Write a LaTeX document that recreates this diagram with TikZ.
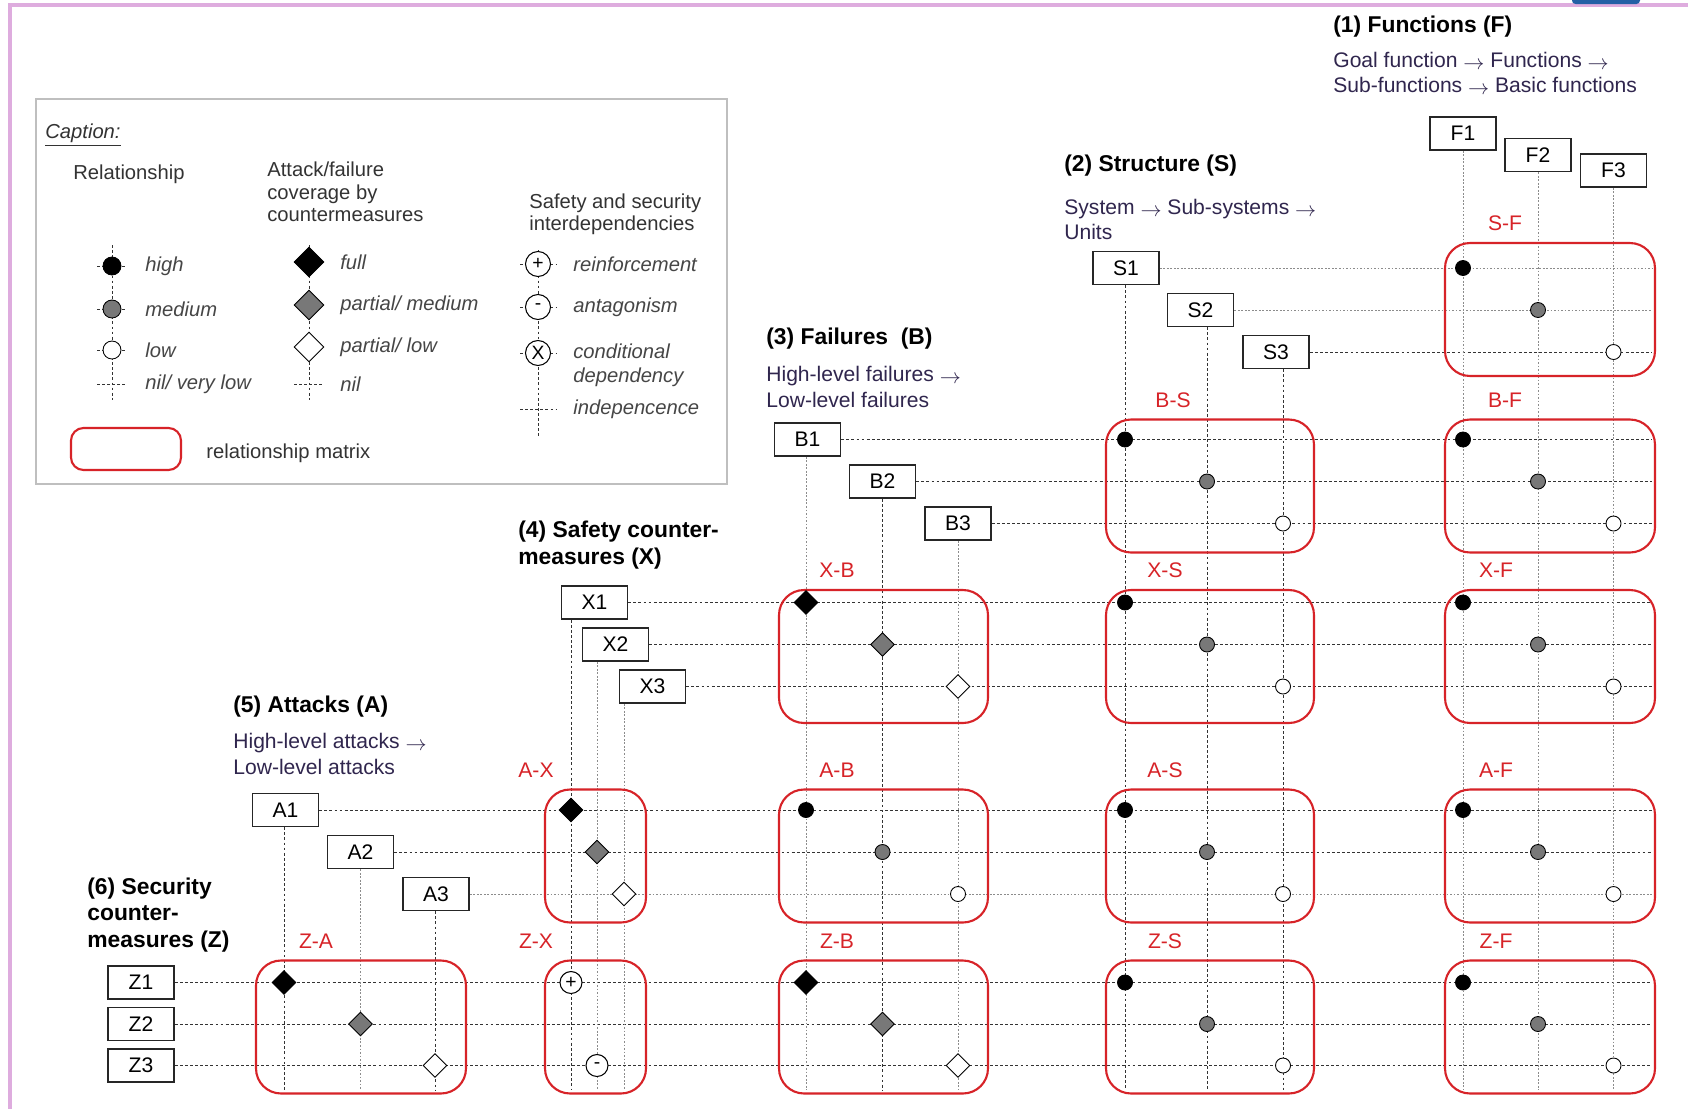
\documentclass[tikz,border=0pt]{standalone}
\usepackage{fontspec}
\setmainfont{Liberation Sans}
\usepackage{xcolor}
\usetikzlibrary{shapes,arrows,positioning}

\definecolor{matred}{RGB}{215,35,40}
\definecolor{slideframe}{RGB}{222,172,222}
\definecolor{subtext}{RGB}{48,38,78}
\definecolor{legtext}{RGB}{70,70,70}
\definecolor{medgray}{RGB}{120,120,120}
\definecolor{tabblue}{RGB}{35,95,165}

\newcommand{\nextlvl}{\raisebox{-0.15ex}{$\rightarrow$}}

\begin{document}
\begin{tikzpicture}[x=0.02cm, y=-0.02cm,
  idbox/.style={rectangle, draw, black!85, fill=white, line width=0.9pt, text=black, minimum width=1.32cm, minimum height=0.66cm, inner sep=0pt, font=\fontsize{12}{12}\selectfont},
  relmat/.style={rectangle, draw=matred, line width=1.2pt, rounded corners=0.5cm, minimum width=4.2cm, minimum height=2.66cm, inner sep=0pt},
  matlabel/.style={text=matred, font=\fontsize{12}{12}\selectfont, inner sep=0pt},
  gridline/.style={draw, black!80, line width=0.55pt, dash pattern=on 1.6pt off 1.3pt},
  gridfaint/.style={draw, black!45, line width=0.55pt, dash pattern=on 1pt off 1pt},
  mhigh/.style={circle, draw, line width=0.5pt, fill=black, inner sep=0pt, minimum size=0.3cm},
  mmed/.style={mhigh, fill=medgray},
  mlow/.style={mhigh, fill=white},
  dfull/.style={diamond, draw, line width=0.5pt, fill=black, inner sep=0pt, minimum width=0.48cm, minimum height=0.48cm},
  dmed/.style={dfull, fill=medgray},
  dlow/.style={dfull, fill=white},
  interdep/.style={circle, draw, line width=0.6pt, fill=white, inner sep=0pt, minimum size=0.42cm, font=\fontsize{11}{11}\selectfont},
  heading/.style={anchor=west, align=left, inner sep=0pt, font=\fontsize{13}{15.3}\selectfont\bfseries},
  subhead/.style={anchor=west, align=left, inner sep=0pt, text=subtext, font=\fontsize{12}{14.4}\selectfont},
  legtitle/.style={anchor=west, align=left, inner sep=0pt, text=black!80, font=\fontsize{11.5}{12.8}\selectfont},
  legitem/.style={anchor=west, align=left, inner sep=0pt, text=legtext, font=\fontsize{11.5}{13.5}\selectfont\itshape}]

  \fill[white] (0,0) rectangle (1688,1109);
  \useasboundingbox (0,0) rectangle (1688,1109);

  % slide frame
  \draw[slideframe, line width=2.4pt] (10,1109) -- (10,5) -- (1688,5);
  \fill[tabblue, rounded corners=2pt] (1572,-6) rectangle (1640,4);

  % caption
  \node[draw=black!25, line width=1.2pt, minimum width=13.82cm, minimum height=7.7cm] (capbox) at (381.5,291.5) {};
  \node[legtitle] (capt) at (45,135) {\underline{\textit{Caption:}}};
  \node[legtitle] (reltitle) at (73,174) {Relationship};
  \node[legtitle] (covtitle) at (267,192) {Attack/failure\\coverage by\\countermeasures};
  \node[legtitle] (deptitle) at (529,214.5) {Safety and security\\interdependencies};

  \coordinate (lrelT) at (112,245); \coordinate (lrelB) at (112,400);
  \coordinate (lrel1) at (112,266); \coordinate (lrel2) at (112,309);
  \coordinate (lrel3) at (112,350); \coordinate (lrel4) at (112,384);
  \coordinate (lcovT) at (309,245); \coordinate (lcovB) at (309,400);
  \coordinate (lcov1) at (309,262); \coordinate (lcov2) at (309,305);
  \coordinate (lcov3) at (309,347); \coordinate (lcov4) at (309,384);
  \coordinate (ldepT) at (538,250); \coordinate (ldepB) at (538,436);
  \coordinate (ldep1) at (538,264); \coordinate (ldep2) at (538,307);
  \coordinate (ldep3) at (538,353); \coordinate (ldep4) at (538,409);

  \draw[gridline] (lrelT) -- (lrelB);
  \draw[gridline] (lcovT) -- (lcovB);
  \draw[gridline] (ldepT) -- (ldepB);
  \foreach \i in {1,...,4} {
    \draw[gridline] ([xshift=-0.3cm]lrel\i) -- ([xshift=0.3cm]lrel\i);
    \draw[gridline] ([xshift=-0.3cm]lcov\i) -- ([xshift=0.3cm]lcov\i);
    \draw[gridline] ([xshift=-0.36cm]ldep\i) -- ([xshift=0.36cm]ldep\i);
  }

  \node[mhigh, minimum size=0.36cm] (lhigh) at (lrel1) {};
  \node[mmed, minimum size=0.36cm] (lmed) at (lrel2) {};
  \node[mlow, minimum size=0.36cm] (llow) at (lrel3) {};
  \node[dfull, minimum width=0.6cm, minimum height=0.6cm] (lfull) at (lcov1) {};
  \node[dmed, minimum width=0.6cm, minimum height=0.6cm] (lpmed) at (lcov2) {};
  \node[dlow, minimum width=0.6cm, minimum height=0.6cm] (lplow) at (lcov3) {};
  \node[interdep, minimum size=0.5cm] (lplus) at (ldep1) {+};
  \node[interdep, minimum size=0.5cm] (lminus) at (ldep2) {-};
  \node[interdep, minimum size=0.5cm] (lcond) at (ldep3) {X};

  \node[legitem, right=0.66cm of lrel1] (thigh) {high};
  \node[legitem, right=0.66cm of lrel2] (tmed) {medium};
  \node[legitem, right=0.66cm of lrel3] (tlow) {low};
  \node[legitem, right=0.66cm of lrel4] (tnil) {nil/ very low};
  \node[legitem, right=0.62cm of lcov1] (tfull) {full};
  \node[legitem, right=0.62cm of lcov2] (tpmed) {partial/ medium};
  \node[legitem, right=0.62cm of lcov3] (tplow) {partial/ low};
  \node[legitem, right=0.62cm of lcov4] (tcnil) {nil};
  \node[legitem, right=0.7cm of ldep1] (tplus) {reinforcement};
  \node[legitem, right=0.7cm of ldep2] (tminus) {antagonism};
  \node[legitem] (tcond) at (573,365) {conditional\\dependency};
  \node[legitem, right=0.7cm of ldep4] (tindep) {indepencence};

  \node[relmat, minimum width=2.2cm, minimum height=0.84cm, rounded corners=0.25cm] (lmat) at (126,449) {};
  \node[legtitle] (tmat) at (206,453) {relationship matrix};

  % headings
  \node[heading] (hF) at (1333,27) {(1) Functions (F)};
  \node[subhead] (sF) at (1333,73.5) {Goal function \nextlvl{} Functions \nextlvl\\Sub-functions \nextlvl{} Basic functions};
  \node[heading] (hS) at (1064,166) {(2) Structure (S)};
  \node[subhead] (sS) at (1064,219.5) {System \nextlvl{} Sub-systems \nextlvl\\Units};
  \node[heading] (hB) at (766,339) {(3) Failures\ \ (B)};
  \node[subhead] (sB) at (766,387) {High-level failures \nextlvl\\Low-level failures};
  \node[heading] (hX) at (518,545.5) {(4) Safety counter-\\measures (X)};
  \node[heading] (hA) at (233,707) {(5) Attacks (A)};
  \node[subhead] (sA) at (233,754) {High-level attacks \nextlvl\\Low-level attacks};
  \node[heading] (hZ) at (87,915) {(6) Security\\counter-\\measures (Z)};

  % element boxes
  \node[idbox] (F1) at (1463,133.5) {F1};
  \node[idbox] (F2) at (1538,155) {F2};
  \node[idbox] (F3) at (1613.5,170.5) {F3};
  \node[idbox] (S1) at (1126,268) {S1};
  \node[idbox] (S2) at (1200.5,310) {S2};
  \node[idbox] (S3) at (1276,352) {S3};
  \node[idbox] (B1) at (807.5,439.5) {B1};
  \node[idbox] (B2) at (882.5,481.5) {B2};
  \node[idbox] (B3) at (958,523.5) {B3};
  \node[idbox] (X1) at (594.5,602.5) {X1};
  \node[idbox] (X2) at (615.5,644.5) {X2};
  \node[idbox] (X3) at (652.5,686.5) {X3};
  \node[idbox] (A1) at (285.5,810) {A1};
  \node[idbox] (A2) at (360.5,852) {A2};
  \node[idbox] (A3) at (436,894) {A3};
  \node[idbox] (Z1) at (141,982.5) {Z1};
  \node[idbox] (Z2) at (141,1024) {Z2};
  \node[idbox] (Z3) at (141,1065.5) {Z3};

  \coordinate (rend) at (1652,0);
  \coordinate (cbot) at (0,1090);
  \foreach \n/\dx in {F1/0,F2/0,F3/0,S1/-1,S2/6.5,S3/7,B1/-1.5,B2/0,B3/0,X1/-23.5,X2/-18.5,X3/-28.5,A1/-1.5,A2/0,A3/-1}
    \coordinate (c\n) at ([xshift=\dx*0.02cm]\n.south);

  % rows and columns
  \foreach \n in {S3,B1,B2,B3,X1,X2,X3,A1,A2,Z1,Z2,Z3}
    \draw[gridline] (\n.east) -- (\n.east -| rend);
  \foreach \n in {S1,S2,A3}
    \draw[gridfaint] (\n.east) -- (\n.east -| rend);
  \foreach \n in {S1,S2,S3,B2,X1,A1,A3}
    \draw[gridline] (c\n) -- (c\n |- cbot);
  \foreach \n in {F1,F2,F3,B1,B3,X2,X3,A2}
    \draw[gridfaint] (c\n) -- (c\n |- cbot);

  % relationship matrices
  \foreach \rw/\cl/\px/\py/\lx/\w in {S/F/1550/309.5/1505/4.2, B/S/1210/486/1173/4.16, B/F/1550/486/1505/4.2,
      X/B/883.5/656.5/837/4.18, X/S/1210/656.5/1165/4.16, X/F/1550/656.5/1496/4.2,
      A/X/595.5/856/536/2.02, A/B/883.5/856/837/4.18, A/S/1210/856/1165/4.16, A/F/1550/856/1496/4.2,
      Z/A/361/1027/316/4.2, Z/X/595.5/1027/536/2.02, Z/B/883.5/1027/837/4.18, Z/S/1210/1027/1165/4.16, Z/F/1550/1027/1496/4.2} {
    \node[relmat, minimum width=\w cm] (\rw\cl) at (\px,\py) {};
    \node[matlabel] (\rw\cl-lab) at (\lx,\py-86) {\rw-\cl};
  }

  % markers
  \foreach \rw/\cl in {S/F,B/S,B/F,X/S,X/F,A/B,A/S,A/F,Z/S,Z/F} {
    \node[mhigh] (\rw\cl-1) at (c\cl1 |- \rw1) {};
    \node[mmed] (\rw\cl-2) at (c\cl2 |- \rw2) {};
    \node[mlow] (\rw\cl-3) at (c\cl3 |- \rw3) {};
  }
  \foreach \rw/\cl in {X/B,A/X,Z/A,Z/B} {
    \node[dfull] (\rw\cl-1) at (c\cl1 |- \rw1) {};
    \node[dmed] (\rw\cl-2) at (c\cl2 |- \rw2) {};
    \node[dlow] (\rw\cl-3) at (c\cl3 |- \rw3) {};
  }
  \node[interdep, minimum size=0.44cm] (ZX-1) at (cX1 |- Z1) {+};
  \node[interdep, minimum size=0.44cm] (ZX-3) at (cX2 |- Z3) {-};
\end{tikzpicture}
\end{document}
